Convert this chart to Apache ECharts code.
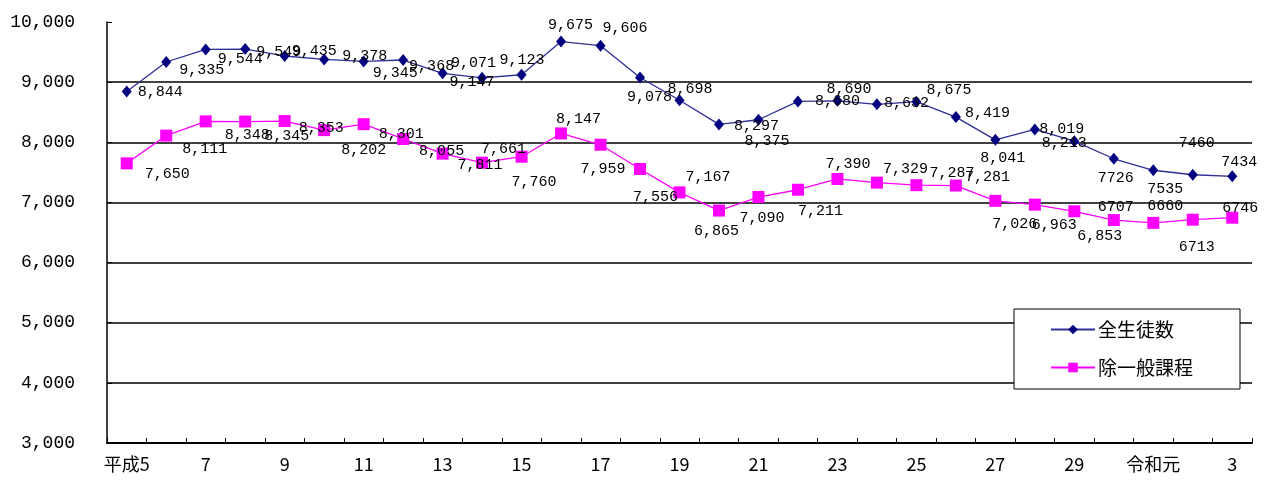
<!DOCTYPE html>
<html>
<head>
<meta charset="utf-8">
<script src="https://cdn.jsdelivr.net/npm/echarts@6/dist/echarts.min.js"></script>
<style>
html,body{margin:0;padding:0;background:#fff;}
#c{width:1265px;height:482px;}
</style>
</head>
<body>
<div id="c"></div>
<script>
// categories
const categories = ['平成5','6','7','8','9','10','11','12','13','14','15','16','17','18','19','20','21','22','23','24','25','26','27','28','29','30','令和元','2','3'];
// 全生徒数
const allStudents = [8844, 9335, 9544, 9549, 9435, 9378, 9345, 9368, 9147, 9071, 9123, 9675, 9606, 9078, 8698, 8297, 8375, 8680, 8690, 8632, 8675, 8419, 8041, 8213, 8019, 7726, 7535, 7460, 7434];
// 除一般課程
const excludingGeneral = [7650, 8111, 8348, 8345, 8353, 8202, 8301, 8055, 7811, 7661, 7760, 8147, 7959, 7556, 7167, 6865, 7090, 7211, 7390, 7329, 7287, 7281, 7026, 6963, 6853, 6707, 6660, 6713, 6746];
// y tick labels
const yTicks = [3000, 4000, 5000, 6000, 7000, 8000, 9000, 10000];
const seriesNames = ['全生徒数', '除一般課程'];

// label placement offsets (style only)
const blueDx = [11,13,12,11,7,18,9,6,7,-31,-22,-13,2,-13,-12,15,-14,17,-11,7,10,9,-15,7,-35,-16,-6,-14,-11];
const blueDy = [1,8,10,3,-5,-3,12,6,9,-15,-15,-17,-18,20,-11,2,21,0,-12,-1,-12,-4,18,14,-12,19,19,-32,-14];
const pinkDx = [18,16,19,19,14,17,15,16,15,-1,-10,-5,-20,-7,6,-25,-19,0,-12,6,13,9,-3,-3,3,-16,-6,-14,-10];
const pinkDy = [11,13,14,14,7,20,10,12,11,-14,25,-14,24,28,-15,20,21,21,-15,-14,-12,-8,23,20,25,-13,-17,27,-10];

function fmt(v, i) {
  return i >= 25 ? String(v) : v.toLocaleString('en-US');
}
function mk(vals, dx, dy) {
  return vals.map((v, i) => ({ value: v, label: { offset: [dx[i], dy[i]] } }));
}
const labelStyle = {
  show: true,
  position: 'inside',
  align: 'left',
  verticalAlign: 'middle',
  fontFamily: 'Liberation Mono',
  fontSize: 15,
  color: '#000',
  formatter: p => fmt(p.value, p.dataIndex)
};

const chart = echarts.init(document.getElementById('c'), null, { renderer: 'canvas' });
chart.setOption({
  animation: false,
  backgroundColor: '#fff',
  grid: { left: 107, right: 13, top: 22, bottom: 39 },
  legend: {
    orient: 'vertical',
    left: 1014,
    top: 309,
    padding: [11, 47, 12, 36],
    itemGap: 19,
    itemWidth: 44,
    itemHeight: 12,
    backgroundColor: '#fff',
    borderColor: '#000',
    borderWidth: 1,
    textStyle: { fontFamily: 'Noto Sans CJK JP', fontSize: 19, color: '#000', padding: [0,0,0,-2] },
    data: seriesNames
  },
  xAxis: {
    type: 'category',
    data: categories,
    boundaryGap: true,
    axisLine: { lineStyle: { color: '#000', width: 2 } },
    axisTick: { show: true, inside: true, length: 5, interval: 0, lineStyle: { color: '#000' } },
    axisLabel: {
      interval: 1,
      fontFamily: 'Noto Sans CJK JP',
      fontSize: 18,
      color: '#000',
      margin: 12
    },
    splitLine: { show: false }
  },
  yAxis: {
    type: 'value',
    min: 3000,
    max: 10000,
    interval: 1000,
    axisLine: { show: true, lineStyle: { color: '#000', width: 1.5 } },
    axisTick: { show: true, inside: true, length: 5, lineStyle: { color: '#000' } },
    axisLabel: {
      fontFamily: 'Liberation Mono',
      fontSize: 18,
      color: '#000',
      margin: 32,
      formatter: v => yTicks.includes(v) ? v.toLocaleString('en-US') : ''
    },
    splitLine: {
      show: true,
      lineStyle: {
        color: ['#000', '#000', '#000', '#000', '#000', '#000', '#000', 'rgba(0,0,0,0)'],
        width: 1.5
      }
    }
  },
  series: [
    {
      name: seriesNames[0],
      type: 'line',
      data: mk(allStudents, blueDx, blueDy),
      symbol: 'diamond',
      symbolSize: [10, 12],
      itemStyle: { color: '#000080' },
      lineStyle: { color: '#2e2e94', width: 1.3 },
      label: labelStyle,
      z: 3
    },
    {
      name: seriesNames[1],
      type: 'line',
      data: mk(excludingGeneral, pinkDx, pinkDy),
      symbol: 'rect',
      symbolSize: 12,
      itemStyle: { color: '#ff00ff' },
      lineStyle: { color: '#ff00ff', width: 1.3 },
      label: labelStyle,
      z: 2
    }
  ]
});
</script>
</body>
</html>
